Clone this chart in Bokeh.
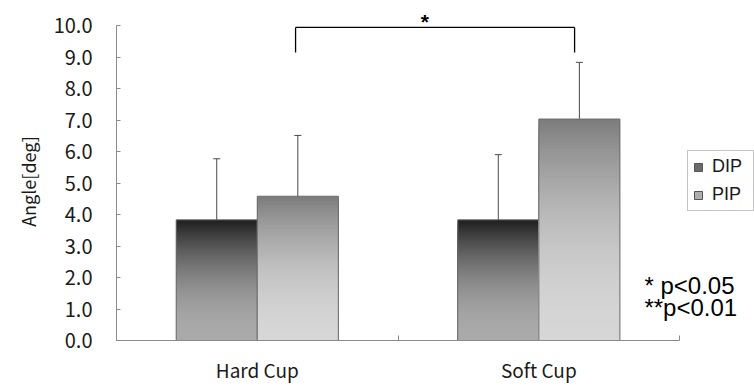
from bokeh.plotting import figure
from bokeh.models import (Range1d, FixedTicker, PrintfTickFormatter, ColumnDataSource,
                          Whisker, TeeHead, Label, Legend, LegendItem)
from bokeh.embed import file_html
from bokeh.resources import INLINE

# ---- data ----
categories = ["Hard Cup", "Soft Cup"]
series = ["DIP", "PIP"]
dip_mean = [3.83, 3.83]
dip_sd = [1.94, 2.07]
pip_mean = [4.58, 7.03]
pip_sd = [1.93, 1.80]
y_ticks = [0, 1, 2, 3, 4, 5, 6, 7, 8, 9, 10]
sig_text = ["* p<0.05", "**p<0.01"]

# ---- style ----
TICK_FONT = "Noto Sans CJK JP"
LAT_FONT = "Liberation Sans"
AXIS_COL = "#8a8a8a"
BAR_W = 0.288
OFFSET = {"DIP": -0.144, "PIP": 0.144}
GRAD = {"DIP": ((0x1e, 0x1e, 0x1e), (0xaa, 0xaa, 0xaa)),
        "PIP": ((0x7c, 0x7c, 0x7c), (0xd6, 0xd6, 0xd6))}
N_STRIPS = 60
X_END = 2.266
Y_TOP = 10.794

p = figure(width=754, height=386, output_backend="svg", toolbar_location=None,
           x_range=Range1d(0, X_END), y_range=Range1d(0, Y_TOP),
           min_border_left=116, min_border_right=0, min_border_top=0, min_border_bottom=46)
p.outline_line_color = None
p.xgrid.grid_line_color = None
p.ygrid.grid_line_color = None
p.background_fill_color = "white"

centers = [i + 0.5 for i in range(len(categories))]
means = {"DIP": dip_mean, "PIP": pip_mean}
sds = {"DIP": dip_sd, "PIP": pip_sd}

legend_items = []
for s in series:
    top_c, bot_c = GRAD[s]
    bx = [c + OFFSET[s] for c in centers]
    # gradient: nested bars drawn from tallest (top colour) to shortest (bottom colour)
    for k in range(N_STRIPS - 1, -1, -1):
        f = (k + 0.5) / N_STRIPS
        w = f ** 2
        col = "#%02x%02x%02x" % tuple(int(round(b + (t - b) * w)) for t, b in zip(top_c, bot_c))
        p.vbar(x=bx, top=[m * (k + 1) / N_STRIPS for m in means[s]], bottom=0,
               width=BAR_W, fill_color=col, line_color=None)
    p.vbar(x=bx, top=means[s], bottom=0, width=BAR_W, fill_color=None,
           line_color="#6a6a6a", line_width=1)
    mid = tuple(int(b + (t - b) * 0.45) for t, b in zip(top_c, bot_c))
    # legend swatch renderer (kept outside the visible range)
    sw = p.vbar(x=[-5], top=[1], width=BAR_W, fill_color="#%02x%02x%02x" % mid,
                line_color="#555555")
    legend_items.append(LegendItem(label=s, renderers=[sw]))
    src = ColumnDataSource(dict(x=bx,
                                upper=[m + d for m, d in zip(means[s], sds[s])],
                                lower=[m - d for m, d in zip(means[s], sds[s])]))
    wk = Whisker(source=src, base="x", upper="upper", lower="lower",
                 line_color="#4a4a4a", line_width=1,
                 upper_head=TeeHead(size=7, line_color="#4a4a4a", line_width=1),
                 lower_head=TeeHead(size=7, line_color="#4a4a4a", line_width=1))
    p.add_layout(wk)

# significance bracket between Hard Cup PIP and Soft Cup PIP
bl = centers[0] + 0.136
br = centers[1] + 0.127
by, bdrop = 9.94, 9.14
p.segment(x0=[bl, bl, br], y0=[by, by, by], x1=[br, bl, br], y1=[by, bdrop, bdrop],
          line_color="black", line_width=1.3)
p.add_layout(Label(x=1.095, y=by + 0.2, text="*", text_align="center",
                   text_baseline="alphabetic", text_font=LAT_FONT, text_font_size="21px",
                   text_font_style="bold", text_color="black"))

# p-value notes
for i, t in enumerate(sig_text):
    p.add_layout(Label(x=1.875, y=1.74 - 0.69 * i, text=t, text_align="left",
                       text_baseline="alphabetic", text_font=LAT_FONT,
                       text_font_size="24px", text_color="black"))

# axes
xa = p.xaxis[0]
xa.bounds = (0, len(categories))
xa.ticker = FixedTicker(ticks=centers, minor_ticks=[0, 1, 2])
xa.major_label_overrides = {c: n for c, n in zip(centers, categories)}
xa.axis_line_color = AXIS_COL
xa.major_tick_line_color = None
xa.minor_tick_line_color = AXIS_COL
xa.minor_tick_in = 5
xa.minor_tick_out = 0
xa.major_label_text_font = TICK_FONT
xa.major_label_text_font_size = "19px"
xa.major_label_text_color = "#1a1a1a"
xa.major_label_standoff = 9

ya = p.yaxis[0]
ya.bounds = (0, 10)
ya.ticker = FixedTicker(ticks=y_ticks, minor_ticks=[])
ya.formatter = PrintfTickFormatter(format="%.1f")
ya.axis_line_color = AXIS_COL
ya.major_tick_line_color = AXIS_COL
ya.major_tick_in = 4
ya.major_tick_out = 0
ya.major_label_text_font = TICK_FONT
ya.major_label_text_font_size = "20px"
ya.major_label_text_color = "#1a1a1a"
ya.major_label_standoff = 24
# trailing ideographic space + nbsp centres the visible label on the 0-10 axis span
ya.axis_label = "Angle[deg]\u3000\u00a0"
ya.axis_label_text_font = TICK_FONT
ya.axis_label_text_font_size = "18px"
ya.axis_label_text_font_style = "normal"
ya.axis_label_text_color = "#1a1a1a"
ya.axis_label_standoff = 10

legend = Legend(items=legend_items, location=(571, 129), orientation="vertical",
                border_line_color="#8a8a8a", border_line_width=1,
                background_fill_color="white", background_fill_alpha=1,
                label_text_font=LAT_FONT, label_text_font_size="18px",
                label_text_color="#1a1a1a", glyph_width=10, glyph_height=10,
                label_standoff=9, spacing=7, padding=5, margin=0, label_width=36)
p.add_layout(legend, "center")

open("out.html", "w").write(file_html(p, INLINE))
